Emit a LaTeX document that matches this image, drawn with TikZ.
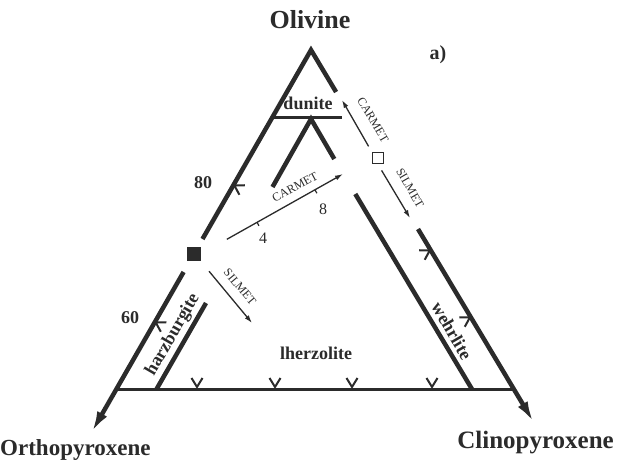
\documentclass[tikz,border=0pt]{standalone}
\usepackage{fontspec}
\setmainfont{Liberation Serif}
\usetikzlibrary{arrows.meta,calc}
\definecolor{ink}{rgb}{0.17,0.17,0.17}
\begin{document}
\begin{tikzpicture}[x=1pt,y=-1pt,
  edge/.style={draw=ink,line width=4.5pt},
  baseline/.style={draw=ink,line width=3pt},
  bigarr/.style={-{Latex[length=22pt,width=11pt]}},
  arr/.style={draw=ink,line width=1.3pt,-{Latex[length=8pt,width=5pt]}},
  big/.style={font=\fontsize{23}{23}\selectfont\bfseries,text=ink,inner sep=0pt},
  lab/.style={font=\fontsize{18}{18}\selectfont\bfseries,text=ink,inner sep=0pt},
  small/.style={font=\fontsize{12}{12}\selectfont,text=ink,inner sep=0pt},
  num/.style={font=\fontsize{16}{16}\selectfont,text=ink,inner sep=0pt},
  vtick/.pic={\draw[ink,line width=2pt] (-5.5,-10) -- (0,-1) -- (5.5,-10);}
]
\useasboundingbox[fill=white] (0,0) rectangle (617,461);
% outer triangle
\coordinate (A) at (311,50);
\coordinate (L1) at (202.5,239);
\coordinate (L2) at (183.6,272);
\coordinate (Ltip) at (91.2,433);
\coordinate (R1) at (336.1,92);
\coordinate (R2) at (418,229);
\coordinate (Rtip) at (534.1,423);
\coordinate (BL) at (116,389);
\coordinate (BR) at (514,389);
\draw[edge] (L1) -- (A) -- (R1);
\draw[edge,bigarr] (L2) -- (Ltip);
\draw[edge,bigarr] (R2) -- (Rtip);
\draw[baseline] (BL) -- (BR);
% dunite line
\coordinate (D1) at (272,117);
\coordinate (D2) at (342,117);
\draw[draw=ink,line width=3pt] (D1) -- (D2);
% inner triangle
\coordinate (I) at (311,119);
\coordinate (I1) at (272.5,187);
\coordinate (I2) at (334.3,159);
\coordinate (H1) at (206,303);
\coordinate (H2) at (156.6,389);
\coordinate (W1) at (355.3,194);
\coordinate (W2) at (471.9,389);
\draw[edge] (I1) -- (I) -- (I2);
\draw[edge] (H1) -- (H2);
\draw[edge] (W1) -- (W2);
% ticks
\foreach \x in {197,275,352,432} \pic at (\x,388) {vtick};
\pic[rotate=-120] at (233.5,185) {vtick};
\pic[rotate=-120] at (154.9,322) {vtick};
\pic[rotate=120] at (430.6,250) {vtick};
\pic[rotate=120] at (470.7,317) {vtick};
% squares
\node[fill=ink,minimum size=14pt,inner sep=0pt] (bsq) at (193.5,254) {};
\node[draw=ink,line width=1.8pt,fill=white,minimum size=11pt,inner sep=0pt] (wsq) at (378,158) {};
% arrows
\coordinate (c8) at (343,174);
\coordinate (s1) at (252,323);
\coordinate (rc) at (342,100);
\coordinate (rs) at (410,218);
\draw[arr,shorten <=30pt] (bsq.east) -- (c8);
\draw[arr,shorten <=13pt] (bsq.south east) -- (s1);
\draw[arr,shorten <=6pt] (wsq.north west) -- (rc);
\draw[arr,shorten <=7pt] (wsq.south) -- (rs);
\coordinate (k4) at ($(bsq.east)!0.396!(c8)$);
\coordinate (k8) at ($(bsq.east)!0.803!(c8)$);
\draw[ink,line width=1.2pt] (k4) -- ++(1.9,3.5);
\draw[ink,line width=1.2pt] (k8) -- ++(1.9,3.5);
% labels
\node[font=\fontsize{26}{26}\selectfont\bfseries,text=ink,inner sep=0pt] (ol) at (310,20) {Olivine};
\node[font=\fontsize{20}{20}\selectfont\bfseries,text=ink,inner sep=0pt] (pa) at (438,55) {a)};
\node[lab] (n80) at (203,183) {80};
\node[lab] (n60) at (130,318) {60};
\node[lab] (dun) at (308,103) {dunite};
\node[lab] (lhz) at (316,353) {lherzolite};
\node[lab,rotate=60] (hz) at (173,335) {harzburgite};
\node[lab,rotate=-60] (wh) at (452,331) {wehrlite};
\node[big,anchor=west] (opx) at (0,450) {Orthopyroxene};
\node[big,anchor=east,font=\fontsize{25}{25}\selectfont\bfseries] (cpx) at (614,443) {Clinopyroxene};
\node[small,rotate=28.5] (cm1) at (295,187) {CARMET};
\node[small,rotate=-50] (sm1) at (240,287) {SILMET};
\node[small,rotate=-59.5] (cm2) at (373,120) {CARMET};
\node[small,rotate=-60] (sm2) at (410,188) {SILMET};
\node[num] (n4) at (263,238) {4};
\node[num] (n8) at (323,209) {8};
\end{tikzpicture}
\end{document}
